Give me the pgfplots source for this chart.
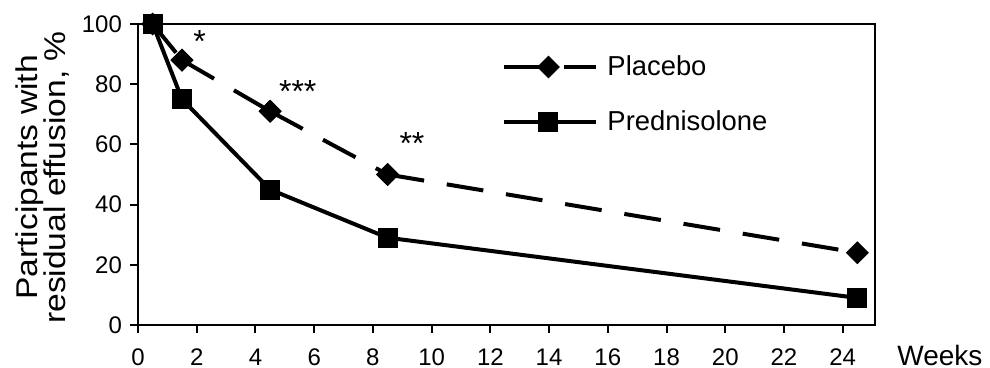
\documentclass[border=0pt]{standalone}
\usepackage{pgfplots}
\pgfplotsset{compat=1.18}
\usepackage{fontspec}
\setmainfont{Liberation Sans}
\newfontfamily\labfont[FakeStretch=1.12]{Liberation Sans}

\begin{document}
\begin{tikzpicture}
\useasboundingbox (-69pt,-21.5pt) rectangle (426pt,162.5pt);
\begin{axis}[
  scale only axis, width=368.5pt, height=150.5pt,
  xmin=0, xmax=25.1, ymin=0, ymax=100,
  xtick={0,2,...,24}, ytick={0,20,...,100},
  axis line style={line width=1pt},
  tick style={line width=1pt, black},
  tick align=outside, tick pos=left,
  major tick length=4pt,
  /pgf/number format/assume math mode=true,
  ticklabel style={font=\fontsize{12}{14}\selectfont},
  xticklabel style={yshift=-4.5pt},
  yticklabel style={xshift=-0.5pt},
  clip=false,
  unbounded coords=jump,
  ylabel={Participants with\\residual effusion, \%},
  ylabel style={at={([xshift=-47.5pt]rel axis cs:0,0.49)}, anchor=center, align=center,
    font=\labfont\fontsize{15}{14}\selectfont},
  legend image code/.code={
    \draw[#1, mark=none] (0pt,0pt) -- (46pt,0pt);
    \draw[#1, only marks] plot coordinates {(22pt,0pt)};
  },
  legend style={draw=none, fill=none, at={(rel axis cs:0.494,0.766)}, anchor=west,
    inner sep=0pt, row sep=12pt, column sep=2.5pt, font=\fontsize{13.7}{15}\selectfont},
  legend cell align=left,
]
\addplot[black, line width=2pt, dash pattern=on 18.5pt off 11.5pt,
  mark=square*, mark size=3.8pt, mark options={solid, rotate=45, line width=0.5pt}]
  coordinates {(0.5,100) (1.5,88) (1.5,nan) (1.5,88) (4.5,71) (4.5,nan) (4.5,71) (8.5,50) (8.5,nan) (8.5,50) (24.5,24)};
\addlegendentry{Placebo}
\addplot[black, line width=2pt,
  mark=square*, mark size=4.75pt, mark options={solid, line width=0.5pt}]
  coordinates {(0.5,100) (1.5,75) (4.5,45) (8.5,29) (24.5,9)};
\addlegendentry{Prednisolone}
\node[font=\fontsize{16}{18}\selectfont, anchor=base] at (axis cs:2.1,90.4) {*};
\node[font=\fontsize{16}{18}\selectfont, anchor=base] at (axis cs:5.44,73.8) {***};
\node[font=\fontsize{16}{18}\selectfont, anchor=base] at (axis cs:9.33,56.5) {**};
\node[font=\fontsize{14}{16}\selectfont, anchor=west, inner sep=0pt] at ([xshift=11pt,yshift=-15pt]rel axis cs:1,0) {Weeks};
\end{axis}
\end{tikzpicture}
\end{document}
